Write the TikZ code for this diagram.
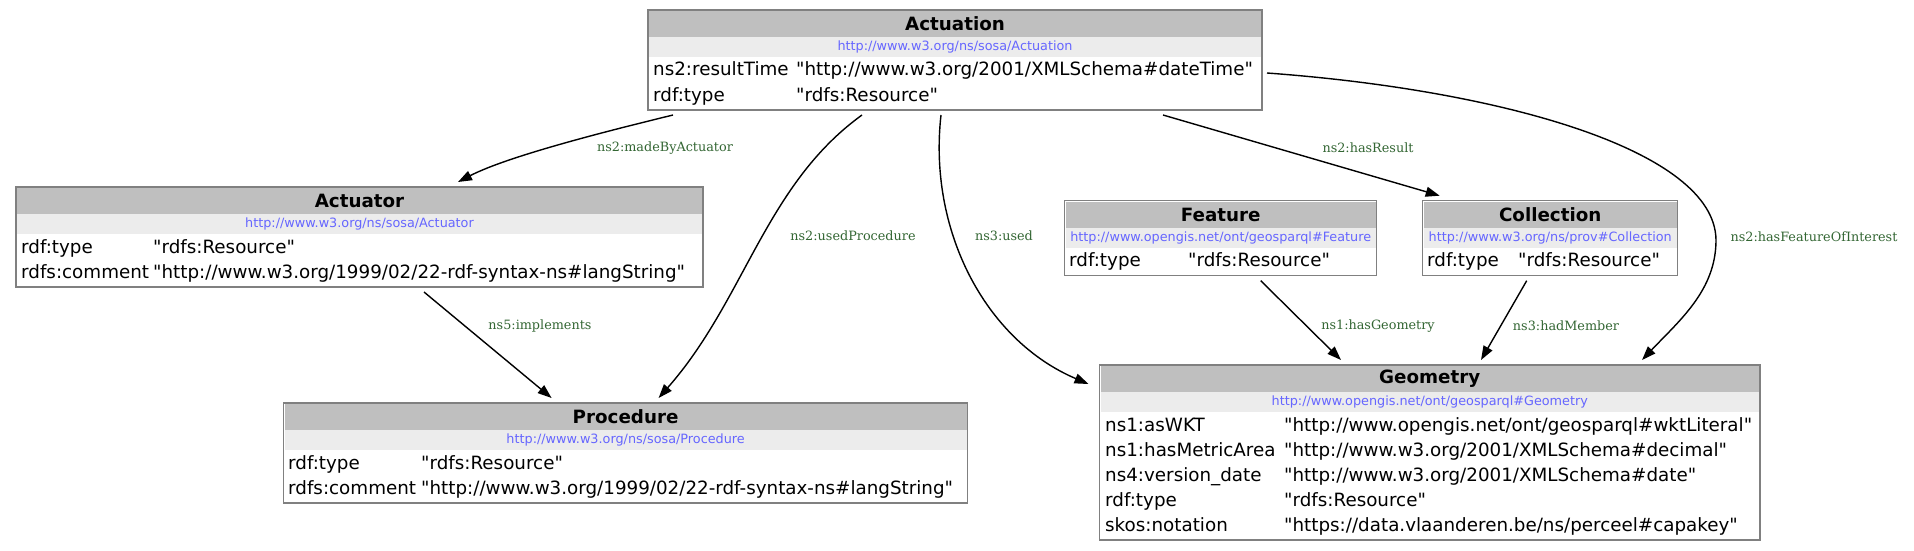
\documentclass[tikz,border=0pt]{standalone}
\usepackage{fontspec}
\setmainfont{DejaVu Sans}[Ligatures=TeXOff]
\newfontfamily\lblfont{DejaVu Serif}[Ligatures=TeXOff]
\usetikzlibrary{arrows.meta}
\definecolor{hdrgray}{RGB}{191,191,191}
\definecolor{urlgray}{RGB}{236,236,236}
\definecolor{bordergray}{RGB}{128,128,128}
\definecolor{urlblue}{RGB}{102,102,255}
\definecolor{lblgreen}{RGB}{51,102,51}
\tikzset{
  ebframe/.style={draw=bordergray, line width=1.3pt, inner sep=0pt, outer sep=5pt},
  ebtitle/.style={inner sep=0pt, font=\fontsize{18.3}{22}\selectfont\bfseries},
  eburl/.style={inner sep=0pt, text=urlblue, font=\fontsize{12.8}{15}\selectfont},
  ebrow/.style={anchor=base west, inner sep=0pt, font=\fontsize{18.3}{22}\selectfont},
  elabel/.style={inner sep=0pt, text=lblgreen, font=\lblfont\fontsize{12.8}{15}\selectfont},
  conn/.style={draw=black, line width=1.4pt, -{Triangle[length=14pt,width=10pt]}}
}
% name, xleft, top, width, nrows, title, url
\newcommand{\ebox}[7]{%
  \pgfmathsetmacro{\ebH}{50+25*#5}%
  \fill[hdrgray] ({#2+1},{#3+1}) rectangle ({#2+#4-1},{#3+27});
  \fill[urlgray] ({#2+1},{#3+27}) rectangle ({#2+#4-1},{#3+47});
  \node[ebframe, minimum width=#4pt, minimum height=\ebH pt] (#1) at ({#2+#4/2},{#3+\ebH/2}) {};
  \node[ebtitle] (#1-t) at ({#2+#4/2},{#3+14}) {#6};
  \node[eburl] (#1-u) at ({#2+#4/2},{#3+37}) {#7};
}
% id, x1, x2, top, k, col1, col2
\newcommand{\ebrow}[7]{%
  \node[ebrow] (#1a) at (#2,{#4+66+25*#5}) {#6};
  \node[ebrow] (#1b) at (#3,{#4+66+25*#5}) {#7};
}
\begin{document}
\begin{tikzpicture}[x=1pt,y=-1pt]
\useasboundingbox[fill=white] (0,0) rectangle (1914,551);

% Actuation
\ebox{act}{648}{10}{614}{2}{Actuation}{http://www.w3.org/ns/sosa/Actuation}
\ebrow{act1}{653}{796}{10}{0}{ns2:resultTime}{"http://www.w3.org/2001/XMLSchema\#dateTime"}
\ebrow{act2}{653}{796}{10}{1}{rdf:type}{"rdfs:Resource"}

% Actuator
\ebox{actor}{16}{187}{687}{2}{Actuator}{http://www.w3.org/ns/sosa/Actuator}
\ebrow{actor1}{21}{153}{187}{0}{rdf:type}{"rdfs:Resource"}
\ebrow{actor2}{21}{153}{187}{1}{rdfs:comment}{"http://www.w3.org/1999/02/22-rdf-syntax-ns\#langString"}

% Procedure
\ebox{proc}{283.6}{403}{684}{2}{Procedure}{http://www.w3.org/ns/sosa/Procedure}
\ebrow{proc1}{288}{421}{403}{0}{rdf:type}{"rdfs:Resource"}
\ebrow{proc2}{288}{421}{403}{1}{rdfs:comment}{"http://www.w3.org/1999/02/22-rdf-syntax-ns\#langString"}

% Feature
\ebox{feat}{1064.7}{200.7}{312}{1}{Feature}{http://www.opengis.net/ont/geosparql\#Feature}
\ebrow{feat1}{1069}{1188}{200.7}{0}{rdf:type}{"rdfs:Resource"}

% Collection
\ebox{coll}{1422.7}{200.7}{255}{1}{Collection}{http://www.w3.org/ns/prov\#Collection}
\ebrow{coll1}{1427}{1518}{200.7}{0}{rdf:type}{"rdfs:Resource"}

% Geometry
\ebox{geo}{1099.5}{365}{660.5}{5}{Geometry}{http://www.opengis.net/ont/geosparql\#Geometry}
\ebrow{geo1}{1105}{1284}{365}{0}{ns1:asWKT}{"http://www.opengis.net/ont/geosparql\#wktLiteral"}
\ebrow{geo2}{1105}{1284}{365}{1}{ns1:hasMetricArea}{"http://www.w3.org/2001/XMLSchema\#decimal"}
\ebrow{geo3}{1105}{1284}{365}{2}{ns4:version\_date}{"http://www.w3.org/2001/XMLSchema\#date"}
\ebrow{geo4}{1105}{1284}{365}{3}{rdf:type}{"rdfs:Resource"}
\ebrow{geo5}{1105}{1284}{365}{4}{skos:notation}{"https://data.vlaanderen.be/ns/perceel\#capakey"}

% connectors
\coordinate (foimid) at (1716,240);
\draw[conn] ([xshift=30pt]act.south west) .. controls (620,128) and (510,155) .. ([xshift=447pt]actor.north west);
\draw[conn] ([xshift=219pt]act.south west) .. controls (765,185) and (745,300) .. ([xshift=380pt]proc.north west);
\draw[conn] ([xshift=298pt]act.south west) .. controls (928,230) and (985,340) .. ([xshift=-6pt,yshift=-24pt]geo.north west);
\draw[conn] ([xshift=520pt]act.south west) -- ([xshift=22pt]coll.north west);
\draw[conn] ([yshift=-13pt]act.east) .. controls (1500,90) and (1715,150) .. (foimid) .. controls (1716,290) and (1680,320) .. ([xshift=547.5pt]geo.north west);
\draw[conn] ([xshift=413pt]actor.south west) -- ([xshift=273pt]proc.north west);
\draw[conn] ([xshift=201pt]feat.south west) -- ([xshift=246.5pt]geo.north west);
\draw[conn] ([xshift=109pt]coll.south west) -- ([xshift=386.5pt]geo.north west);

% labels
\node[elabel] (l1) at (665,148) {ns2:madeByActuator};
\node[elabel] (l2) at (853,236) {ns2:usedProcedure};
\node[elabel] (l3) at (1004,236) {ns3:used};
\node[elabel] (l4) at (1368,148) {ns2:hasResult};
\node[elabel] (l5) at (1814,237) {ns2:hasFeatureOfInterest};
\node[elabel] (l6) at (540,326) {ns5:implements};
\node[elabel] (l7) at (1378,326) {ns1:hasGeometry};
\node[elabel] (l8) at (1566,326) {ns3:hadMember};
\end{tikzpicture}
\end{document}
